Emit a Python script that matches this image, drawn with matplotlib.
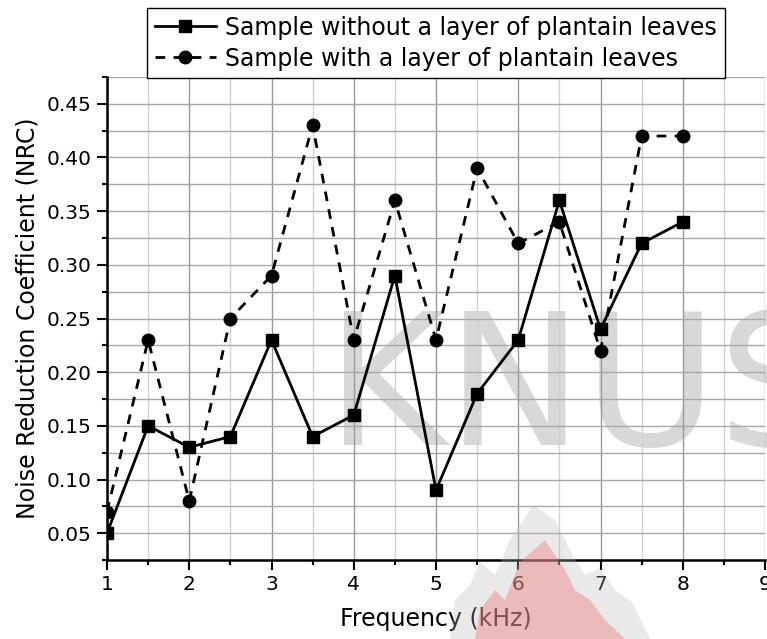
import matplotlib
matplotlib.use('Agg')
import matplotlib.pyplot as plt
from matplotlib.ticker import MultipleLocator
from matplotlib.patches import Polygon

# Frequency in kHz
freq = [1, 1.5, 2, 2.5, 3, 3.5, 4, 4.5, 5, 5.5, 6, 6.5, 7, 7.5, 8]
# NRC values
nrc_without = [0.05, 0.15, 0.13, 0.14, 0.23, 0.14, 0.16, 0.29, 0.09, 0.18, 0.23, 0.36, 0.24, 0.32, 0.34]
nrc_with = [0.07, 0.23, 0.08, 0.25, 0.29, 0.43, 0.23, 0.36, 0.23, 0.39, 0.32, 0.34, 0.22, 0.42, 0.42]

label_without = 'Sample without a layer of plantain leaves'
label_with = 'Sample with a layer of plantain leaves'

plt.rcParams['font.family'] = ['DejaVu Sans']

W, H = 767, 639
fig = plt.figure(figsize=(W / 100, H / 100), dpi=100)
ax = fig.add_axes([107 / W, 1 - 560 / H, 658 / W, 483 / H])
ax.set_facecolor('none')

# watermark behind everything
ax.text(326 / W, 1 - 445 / H, 'KNUS', transform=fig.transFigure, fontsize=132,
        color='#cfcfcf', alpha=0.8, ha='left', va='baseline', zorder=0, clip_on=False)

def px(pts):
    return [(x / W, 1 - y / H) for x, y in pts]

outer = [(450, 639), (455, 600), (470, 585), (480, 562), (495, 575), (510, 540), (533, 505),
         (555, 520), (575, 560), (585, 575), (600, 568), (615, 590), (632, 602), (650, 639)]
inner = [(475, 639), (480, 610), (495, 590), (505, 600), (520, 562), (545, 540), (565, 570),
         (575, 590), (590, 600), (605, 620), (625, 639)]
fig.patches.append(Polygon(px(outer), closed=True, transform=fig.transFigure,
                           facecolor='#b8b8b8', edgecolor='none', alpha=0.3, zorder=0))
fig.patches.append(Polygon(px(inner), closed=True, transform=fig.transFigure,
                           facecolor='#f07878', edgecolor='none', alpha=0.4, zorder=0))

ax.plot(freq, nrc_without, color='black', lw=2, marker='s', markersize=8.5,
        label=label_without, zorder=3)
ax.plot(freq, nrc_with, color='black', lw=2, dashes=(3.5, 3), marker='o', markersize=9,
        label=label_with, zorder=3)

ax.set_xlim(1, 9)
ax.set_ylim(0.025, 0.475)
ax.xaxis.set_major_locator(MultipleLocator(1))
ax.xaxis.set_minor_locator(MultipleLocator(0.5))
ax.yaxis.set_minor_locator(MultipleLocator(0.025))
ax.set_yticks([0.05, 0.10, 0.15, 0.20, 0.25, 0.30, 0.35, 0.40, 0.45])
ax.set_yticklabels(['0.05', '0.10', '0.15', '0.20', '0.25', '0.30', '0.35', '0.40', '0.45'])

ax.set_axisbelow(True)
ax.grid(which='major', axis='x', color='#999999', lw=1)
ax.grid(which='minor', axis='x', color='#d2d2d2', lw=1)
ax.grid(which='both', axis='y', color='#a8a8a8', lw=1)

for side in ['top', 'right']:
    ax.spines[side].set_visible(False)
for side in ['left', 'bottom']:
    ax.spines[side].set_linewidth(1.8)
    ax.spines[side].set_color('black')

ax.tick_params(which='major', direction='out', length=7, width=1.5, labelsize=14.5, pad=4)
ax.tick_params(which='minor', direction='out', length=3.5, width=1.5)

ax.set_xlabel('Frequency (kHz)', fontsize=17, labelpad=9)
ax.set_ylabel('Noise Reduction Coefficient (NRC)', fontsize=17, labelpad=5)

leg = ax.legend(loc='upper left', bbox_to_anchor=(147 / W, 1 - 8 / H),
                bbox_transform=fig.transFigure, fontsize=17, frameon=True,
                fancybox=False, framealpha=1, edgecolor='black', handlelength=2.6,
                handletextpad=0.4, labelspacing=0.3, borderpad=0.32, borderaxespad=0)
leg.get_frame().set_linewidth(1)

fig.savefig('out.png', dpi=100)
